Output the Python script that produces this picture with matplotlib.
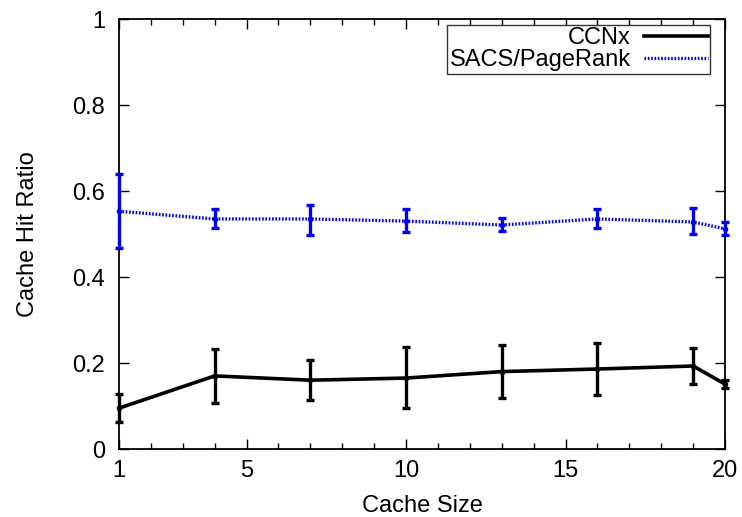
import numpy as np
from matplotlib import pyplot as plt
from matplotlib.ticker import MultipleLocator

plt.rcParams.update({'font.size': 17, 'font.family': ['Liberation Sans', 'DejaVu Sans']})

cache_size = [1, 4, 7, 10, 13, 16, 19, 20]

ccnx = [0.095, 0.170, 0.160, 0.165, 0.180, 0.186, 0.193, 0.151]
ccnx_low = [0.063, 0.107, 0.114, 0.095, 0.119, 0.126, 0.151, 0.141]
ccnx_high = [0.128, 0.233, 0.207, 0.237, 0.242, 0.247, 0.235, 0.161]

sacs = [0.553, 0.535, 0.535, 0.530, 0.521, 0.535, 0.528, 0.512]
sacs_low = [0.467, 0.514, 0.498, 0.505, 0.507, 0.514, 0.500, 0.498]
sacs_high = [0.640, 0.558, 0.567, 0.558, 0.537, 0.558, 0.560, 0.528]

x_ticks = [1, 5, 10, 15, 20]
y_ticks = [0, 0.2, 0.4, 0.6, 0.8, 1]
y_tick_labels = ['0', '0.2', '0.4', '0.6', '0.8', '1']

fig = plt.figure(figsize=(7.42, 5.17), dpi=100)
ax = fig.add_axes([119 / 742, 1 - 449 / 517, (725 - 119) / 742, (449 - 19) / 517])

x = np.array(cache_size)
c = np.array(ccnx)
s = np.array(sacs)
c_err = [c - np.array(ccnx_low), np.array(ccnx_high) - c]
s_err = [s - np.array(sacs_low), np.array(sacs_high) - s]

ax.errorbar(x, c, yerr=c_err, color='black', lw=2.6, elinewidth=2.4, capsize=3, capthick=2.4,
            marker='o', ms=3, label='CCNx', clip_on=False, zorder=3)
ax.errorbar(x, s, yerr=s_err, color='#0000ee', lw=2.4, ls=(0, (0.5, 0.5)), elinewidth=2.4,
            capsize=3, capthick=2.4, marker='o', ms=3, label='SACS/PageRank', clip_on=False, zorder=3)

ax.set_xlim(1, 20)
ax.set_ylim(0, 1)
ax.set_xticks(x_ticks)
ax.xaxis.set_minor_locator(MultipleLocator(1))
ax.set_yticks(y_ticks)
ax.set_yticklabels(y_tick_labels)
ax.tick_params(which='both', direction='in', top=True, right=True, width=1)
ax.tick_params(which='major', length=7)
ax.tick_params(which='minor', length=4)
ax.tick_params(axis='x', pad=8)
ax.tick_params(axis='y', pad=10)
for sp in ax.spines.values():
    sp.set_linewidth(1.3)

ax.set_xlabel('Cache Size', labelpad=9)
ax.set_ylabel('Cache Hit Ratio', labelpad=24)

handles, labels = ax.get_legend_handles_labels()
handles = [h[0] for h in handles]
leg = ax.legend(handles, labels, loc='upper right', bbox_to_anchor=(710 / 742, 1 - 25 / 517),
                bbox_transform=fig.transFigure, borderaxespad=0, markerfirst=False, fancybox=False,
                framealpha=1, edgecolor='#333333', borderpad=0.1, labelspacing=0.0,
                handlelength=2.7, handletextpad=0.55)
leg.get_frame().set_linewidth(1)
for h in leg.legend_handles:
    h.set_marker('')

fig.savefig('out.png', dpi=100)
